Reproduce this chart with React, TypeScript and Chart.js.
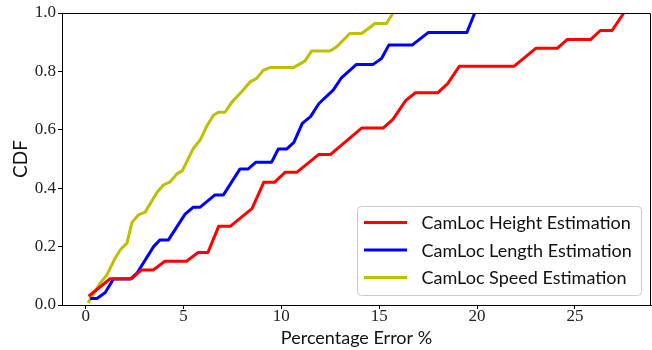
import { useEffect, useRef } from "react";
import { Chart, registerables } from "chart.js";

Chart.register(...registerables);

const seriesNames = [
  "CamLoc Height Estimation",
  "CamLoc Length Estimation",
  "CamLoc Speed Estimation",
];
const seriesColors = ["#ff0000", "#0000ff", "#bfbf00"];

const heightX = [0.15, 0.7, 1.25, 2.35, 2.85, 3.45, 4.05, 5.15, 5.75, 6.25, 6.8, 7.4, 8.5, 9.1, 9.65, 10.2, 10.8, 11.9, 12.5, 14.1, 15.2, 15.7, 16.35, 16.85, 18.0, 18.5, 19.1, 21.9, 23.0, 24.1, 24.6, 25.8, 26.3, 26.9, 27.5];
const heightY = [0.03, 0.06, 0.09, 0.09, 0.12, 0.12, 0.15, 0.15, 0.18, 0.18, 0.27, 0.27, 0.33, 0.42, 0.42, 0.455, 0.455, 0.515, 0.515, 0.606, 0.606, 0.636, 0.7, 0.727, 0.727, 0.758, 0.818, 0.818, 0.879, 0.879, 0.909, 0.909, 0.94, 0.94, 1.0];

const lengthX = [0.23, 0.58, 1.0, 1.42, 2.28, 2.62, 3.47, 3.8, 4.23, 5.08, 5.5, 5.85, 6.61, 7.04, 7.89, 8.31, 8.7, 9.5, 9.84, 10.27, 10.64, 11.07, 11.49, 11.92, 12.65, 13.08, 13.84, 14.69, 15.12, 15.49, 16.68, 17.5, 19.48, 19.88];
const lengthY = [0.022, 0.022, 0.043, 0.089, 0.089, 0.109, 0.2, 0.223, 0.223, 0.311, 0.335, 0.335, 0.377, 0.377, 0.466, 0.466, 0.489, 0.489, 0.534, 0.534, 0.557, 0.622, 0.645, 0.69, 0.736, 0.779, 0.824, 0.824, 0.844, 0.89, 0.89, 0.933, 0.933, 1.0];

const speedX = [0.12, 0.74, 1.09, 1.51, 1.77, 2.11, 2.36, 2.7, 3.04, 3.64, 3.97, 4.32, 4.66, 4.94, 5.25, 5.51, 5.85, 6.19, 6.53, 6.78, 7.12, 7.46, 7.97, 8.4, 8.74, 9.08, 9.42, 10.61, 11.2, 11.55, 12.48, 12.82, 13.5, 14.1, 14.43, 14.78, 15.37, 15.71];
const speedY = [0.007, 0.075, 0.104, 0.161, 0.189, 0.212, 0.282, 0.309, 0.318, 0.385, 0.411, 0.422, 0.449, 0.46, 0.502, 0.537, 0.565, 0.613, 0.65, 0.66, 0.66, 0.694, 0.73, 0.764, 0.776, 0.804, 0.813, 0.813, 0.835, 0.87, 0.87, 0.884, 0.93, 0.93, 0.946, 0.964, 0.964, 1.0];

const xTicks = [0, 5, 10, 15, 20, 25];
const yTicks = [0, 0.2, 0.4, 0.6, 0.8, 1.0];
const xLabel = "Percentage Error %";
const yLabel = "CDF";

const seriesX = [heightX, lengthX, speedX];
const seriesY = [heightY, lengthY, speedY];

const SANS = "Lato, 'DejaVu Sans', sans-serif";
const SERIF = "'Liberation Serif', 'DejaVu Serif', serif";

const decorPlugin = {
  id: "decor",
  afterDatasetsDraw(chart: any) {
    const { ctx, chartArea: a } = chart;
    ctx.save();
    // top & right spines
    ctx.strokeStyle = "#000";
    ctx.lineWidth = 1;
    ctx.beginPath();
    ctx.moveTo(a.left, a.top + 0.5);
    ctx.lineTo(a.right - 0.5, a.top + 0.5);
    ctx.lineTo(a.right - 0.5, a.bottom);
    ctx.stroke();

    // legend
    const bx = 357.5, by = 206.5, bw = 284, bh = 89;
    ctx.fillStyle = "rgba(255,255,255,0.8)";
    ctx.strokeStyle = "#cccccc";
    ctx.lineWidth = 1;
    ctx.beginPath();
    (ctx as any).roundRect(bx, by, bw, bh, 4);
    ctx.fill();
    ctx.stroke();
    const rows = [222.5, 250, 277.5];
    ctx.font = `18px ${SANS}`;
    ctx.textBaseline = "middle";
    ctx.textAlign = "left";
    seriesNames.forEach((name, i) => {
      ctx.strokeStyle = seriesColors[i];
      ctx.lineWidth = 3;
      ctx.beginPath();
      ctx.moveTo(364, rows[i]);
      ctx.lineTo(407, rows[i]);
      ctx.stroke();
      ctx.fillStyle = "#111";
      ctx.fillText(name, 421.5, rows[i] + 1);
    });

    // axis titles
    ctx.fillStyle = "#111";
    ctx.font = `18px ${SANS}`;
    ctx.textAlign = "center";
    ctx.textBaseline = "middle";
    ctx.fillText(xLabel, (a.left + a.right) / 2, 338.5);
    ctx.save();
    ctx.translate(21, (a.top + a.bottom) / 2);
    ctx.rotate(-Math.PI / 2);
    ctx.font = `19px ${SANS}`;
    ctx.fillText(yLabel, 0, 0);
    ctx.restore();
    ctx.restore();
  },
};

export default function App() {
  const ref = useRef<HTMLCanvasElement | null>(null);
  useEffect(() => {
    if (!ref.current) return;
    const chart = new Chart(ref.current, {
      type: "line",
      data: {
        datasets: seriesNames.map((name, i) => ({
          label: name,
          data: seriesX[i].map((x, j) => ({ x, y: seriesY[i][j] })),
          borderColor: seriesColors[i],
          backgroundColor: seriesColors[i],
          borderWidth: 3,
          pointRadius: 0,
          tension: 0,
          fill: false,
          borderJoinStyle: "round" as const,
          borderCapStyle: "butt" as const,
        })),
      },
      options: {
        animation: false,
        responsive: false,
        maintainAspectRatio: false,
        layout: { padding: { top: 13, right: 1, left: 0, bottom: 0 } },
        plugins: {
          legend: { display: false },
          tooltip: { enabled: false },
        },
        scales: {
          x: {
            type: "linear",
            min: -1.21,
            max: 28.89,
            afterBuildTicks: (s: any) => {
              s.ticks = xTicks.map((v) => ({ value: v }));
            },
            afterFit: (s: any) => {
              s.height = 45;
            },
            grid: {
              display: true,
              drawOnChartArea: false,
              drawTicks: true,
              tickLength: 4,
              color: "#000",
            },
            border: { display: true, color: "#000", width: 1 },
            ticks: {
              color: "#222",
              font: { family: SERIF, size: 17 },
              padding: -3,
              maxRotation: 0,
              callback: (v: any) => String(v),
            },
          },
          y: {
            type: "linear",
            min: 0,
            max: 1,
            afterBuildTicks: (s: any) => {
              s.ticks = yTicks.map((v) => ({ value: v }));
            },
            afterFit: (s: any) => {
              s.width = 62;
            },
            grid: {
              display: true,
              drawOnChartArea: false,
              drawTicks: true,
              tickLength: 4,
              color: "#000",
            },
            border: { display: true, color: "#000", width: 1 },
            ticks: {
              color: "#222",
              font: { family: SERIF, size: 17 },
              padding: 2,
              callback: (v: any) => Number(v).toFixed(1),
            },
          },
        },
      },
      plugins: [decorPlugin],
    });
    return () => chart.destroy();
  }, []);
  return (
    <div style={{ position: "fixed", left: 0, top: 0, width: 652, height: 350, background: "#fff" }}>
      <canvas ref={ref} width={652} height={350} style={{ width: 652, height: 350 }} />
    </div>
  );
}
